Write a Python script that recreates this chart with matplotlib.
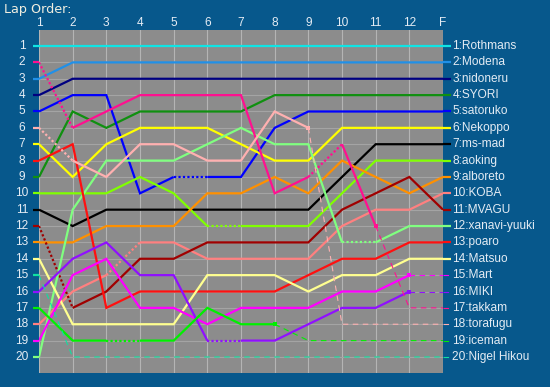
import matplotlib
matplotlib.use("Agg")
import matplotlib.pyplot as plt

# ---- data ----
lap_labels = ["1", "2", "3", "4", "5", "6", "7", "8", "9", "10", "11", "12", "F"]
position_labels = [str(i) for i in range(1, 21)]

rothmans = [1, 1, 1, 1, 1, 1, 1, 1, 1, 1, 1, 1, 1]
modena = [3, 2, 2, 2, 2, 2, 2, 2, 2, 2, 2, 2, 2]
nidoneru = [4, 3, 3, 3, 3, 3, 3, 3, 3, 3, 3, 3, 3]
syori = [9, 5, 6, 5, 5, 5, 5, 4, 4, 4, 4, 4, 4]
satoruko = [5, 4, 4, 10, 9, 9, 9, 6, 5, 5, 5, 5, 5]
nekoppo = [7, 9, 7, 6, 6, 6, 7, 8, 8, 6, 6, 6, 6]
ms_mad = [11, 12, 11, 11, 11, 11, 11, 11, 11, 9, 7, 7, 7]
aoking = [10, 10, 10, 9, 10, 12, 12, 12, 12, 10, 8, 8, 8]
alboreto = [13, 13, 12, 12, 12, 10, 10, 9, 10, 8, 9, 10, 9]
koba = [18, 16, 15, 13, 13, 14, 14, 14, 14, 12, 11, 11, 10]
mvagu = [12, 17, 16, 14, 14, 13, 13, 13, 13, 11, 10, 9, 11]
xanavi = [20, 11, 8, 8, 8, 7, 6, 7, 7, 13, 13, 12, 12]
poaro = [8, 7, 17, 16, 16, 16, 16, 16, 15, 14, 14, 13, 13]
matsuo = [14, 18, 18, 18, 18, 15, 15, 15, 16, 15, 15, 14, 14]
mart = [19, 15, 14, 17, 17, 18, 17, 17, 17, 16, 16, 15, 15]
miki = [16, 14, 13, 15, 15, 19, 19, 19, 18, 17, 17, 16, 16]
takkam = [2, 6, 5, 4, 4, 4, 4, 10, 9, 7, 12, 17, 17]
torafugu = [6, 8, 9, 7, 7, 8, 8, 5, 6, 18, 18, 18, 18]
iceman = [17, 19, 19, 19, 19, 17, 18, 18, 19, 19, 19, 19, 19]
nigel = [15, 20, 20, 20, 20, 20, 20, 20, 20, 20, 20, 20, 20]

names = ["Rothmans", "Modena", "nidoneru", "SYORI", "satoruko", "Nekoppo", "ms-mad",
         "aoking", "alboreto", "KOBA", "MVAGU", "xanavi-yuuki", "poaro", "Matsuo",
         "Mart", "MIKI", "takkam", "torafugu", "iceman", "Nigel Hikou"]
series = [rothmans, modena, nidoneru, syori, satoruko, nekoppo, ms_mad, aoking,
          alboreto, koba, mvagu, xanavi, poaro, matsuo, mart, miki, takkam,
          torafugu, iceman, nigel]

# ---- styles ----
colors = ["#10e4e4", "#2090e8", "#000080", "#109010", "#0000ff", "#ffff00", "#000000",
          "#80ff00", "#ff9000", "#ff8080", "#a00000", "#80ff80", "#ff1010", "#ffff90",
          "#ff00ff", "#9010ff", "#ff1090", "#ffb0b0", "#00f000", "#10e0a0"]
# segment styles: s solid, o dotted, d thin dashed (12 segments)
seg_styles = {
    "satoruko": {4: "o"},
    "aoking": {5: "o"},
    "KOBA": {2: "o"},
    "MVAGU": {0: "o"},
    "xanavi-yuuki": {9: "o"},
    "Mart": {11: "d"},
    "MIKI": {5: "o", 11: "d"},
    "takkam": {0: "o", 8: "o", 10: "d", 11: "d"},
    "torafugu": {0: "o", 8: "d", 9: "d", 10: "d", 11: "d"},
    "iceman": {2: "o", 7: "d", 8: "d", 9: "d", 10: "d", 11: "d"},
    "Nigel Hikou": {i: "d" for i in range(12)},
}

BG = "#07588c"
PLOT = "#8c8c8c"
GRID = "#a4a4a4"
TXT = "#e4ecf4"
FONT = "Liberation Sans"

W, H = 550, 387
fig = plt.figure(figsize=(W / 100, H / 100), dpi=100, facecolor=BG)
ax = fig.add_axes([39 / W, 1 - 373 / H, 404 / W, 343 / H])
ax.set_facecolor(PLOT)
ax.set_xlim(0, 12)
ax.set_ylim(20.98, 0.02)
for s in ax.spines.values():
    s.set_visible(False)
ax.set_xticks([])
ax.set_yticks([])

for i in range(13):
    ax.axvline(i, color="#b4b4b4", lw=0.8, zorder=1)
for p in range(1, 21):
    ax.axhline(p, color=GRID, lw=0.8, zorder=1)


def style_kwargs(st):
    if st == "o":
        return dict(lw=1.6, linestyle=(0, (1, 1)), dash_capstyle="butt")
    if st == "d":
        return dict(lw=0.8, linestyle=(0, (5, 4)))
    return dict(lw=1.6, linestyle="-", solid_capstyle="butt")


x = list(range(13))
for name, ys, c in zip(names, series, colors):
    st = seg_styles.get(name, {})
    # left stub
    ax.plot([-0.18, 0], [ys[0], ys[0]], color=c, clip_on=False, zorder=3, **style_kwargs("s"))
    # segments: group consecutive same-style segments
    k = 0
    while k < 12:
        s0 = st.get(k, "s")
        j = k
        while j + 1 < 12 and st.get(j + 1, "s") == s0:
            j += 1
        ax.plot(x[k:j + 2], ys[k:j + 2], color=c, zorder=3, solid_joinstyle="miter",
                **style_kwargs(s0))
        if s0 == "d" and k > 0 and st.get(k - 1, "s") != "d":
            ax.plot([x[k]], [ys[k]], marker="s", ms=2.6, color=c, mew=0, zorder=4)
        k = j + 1
    # right stub
    ax.plot([12, 12.24], [ys[-1], ys[-1]], color=c, clip_on=False, zorder=3,
            **style_kwargs(st.get(11, "s")))

# labels
for i, lab in enumerate(lap_labels):
    ax.text(i, -0.4, lab, ha="center", va="center", color=TXT, fontsize=8.6,
            family=FONT, clip_on=False)
for p, lab in enumerate(position_labels, start=1):
    ax.text(-0.5, p, lab, ha="center", va="center", color=TXT, fontsize=8.6,
            family=FONT, clip_on=False)
for name, ys in zip(names, series):
    ax.text(12.28, ys[-1], f"{ys[-1]}:{name}", ha="left", va="center", color=TXT,
            fontsize=8.6, family=FONT, clip_on=False)

fig.text(4 / W, 1 - 9 / H, "Lap Order:", ha="left", va="center", color="#f0eee0",
         fontsize=9.2, family="DejaVu Sans")

fig.savefig("out.png", dpi=100, facecolor=BG)
